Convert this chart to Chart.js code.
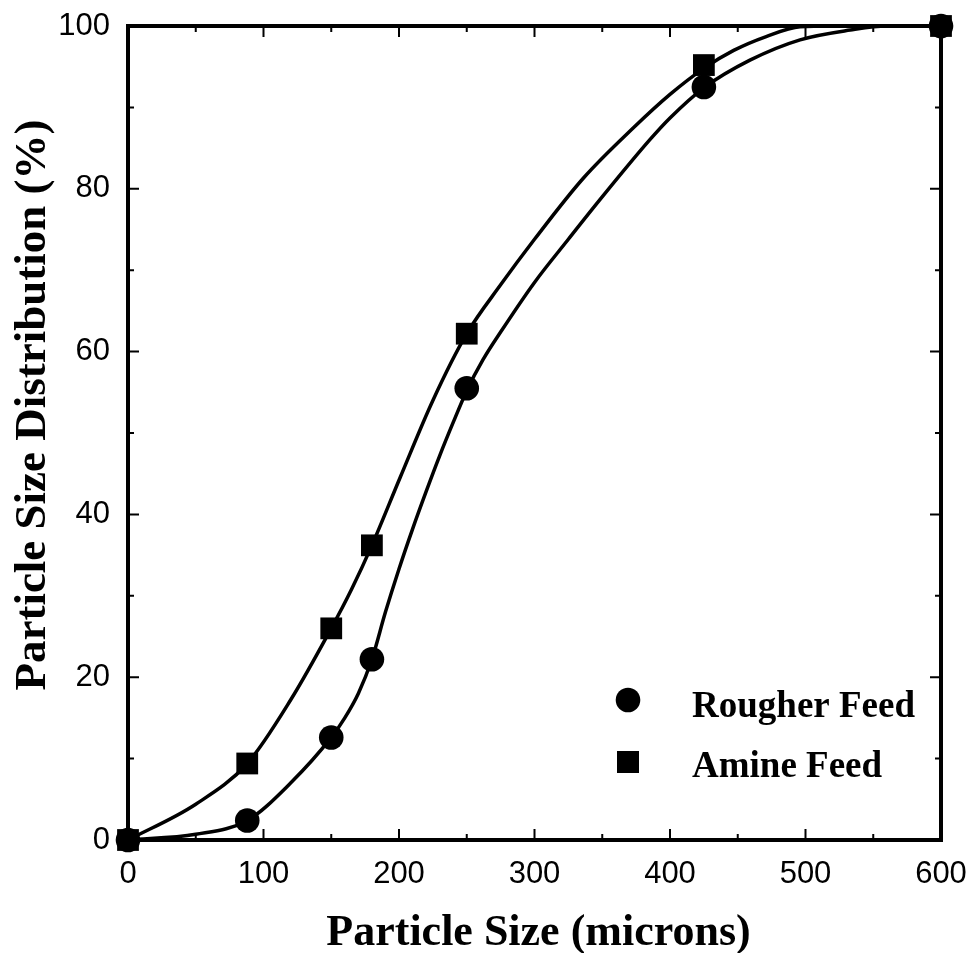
<!DOCTYPE html>
<html>
<head>
<meta charset="utf-8">
<script src="https://cdn.jsdelivr.net/npm/chart.js@4.4.1/dist/chart.umd.min.js"></script>
<style>
  body { margin: 0; background: #fff; }
  #wrap { width: 974px; height: 953px; }
</style>
</head>
<body>
<div id="wrap"><canvas id="myChart" width="974" height="953"></canvas></div>
<script>
// measured points
var sizes = [0, 88, 150, 180, 250, 425, 600];
var rougherFeed = [0, 2.4, 12.6, 22.2, 55.5, 92.5, 100];
var amineFeed = [0, 9.4, 26.0, 36.2, 62.2, 95.2, 100];

// fitted curves
var rougherFitX = [0, 50, 88, 120, 150, 160, 170, 180, 190, 200, 210, 220, 230, 240, 250, 262, 275, 300, 325, 348, 385, 400, 425, 459, 496, 533, 560, 600];
var rougherFitY = [0, 0.7, 2.4, 7.0, 12.6, 15.0, 18.0, 22.2, 28.0, 33.3, 38.2, 42.8, 47.2, 51.3, 55.2, 59.0, 62.4, 68.5, 73.8, 78.6, 86.0, 88.7, 92.4, 95.8, 98.3, 99.5, 100, 100];
var amineFitX = [0, 50, 88, 120, 150, 165, 180, 201, 225, 250, 275, 300, 336, 373, 400, 425, 447, 471, 496, 520, 600];
var amineFitY = [0, 4.4, 9.4, 17.2, 26.0, 30.8, 36.2, 44.6, 54.0, 62.2, 68.2, 73.8, 81.3, 87.5, 91.6, 94.8, 97.0, 98.7, 99.9, 100, 100];

var xTicks = [0, 100, 200, 300, 400, 500, 600];
var yTicks = [0, 20, 40, 60, 80, 100];

var seriesNames = ["Rougher Feed", "Amine Feed"];

function pts(xs, ys) {
    return xs.map(function(x, i){ return {x: x, y: ys[i]}; });
}

var serif = "'Liberation Serif', 'Times New Roman', serif";
var sans = "'Liberation Sans', Arial, sans-serif";

// frame, inside ticks, axis titles and the little legend box
var decorations = {
    id: 'decorations',
    afterDraw: function(chart) {
        var ctx = chart.ctx;
        var a = chart.chartArea;
        var xs = chart.scales.x, ys = chart.scales.y;
        ctx.save();
        ctx.strokeStyle = '#000';
        ctx.lineCap = 'butt';

        ctx.lineWidth = 2;
        ctx.beginPath();
        for (var v = 0; v <= 600; v += 50) {
            var px = xs.getPixelForValue(v);
            var len = (v % 100 === 0) ? 11 : 6;
            ctx.moveTo(px, a.bottom); ctx.lineTo(px, a.bottom - len);
            ctx.moveTo(px, a.top); ctx.lineTo(px, a.top + len);
        }
        for (var w = 0; w <= 100; w += 10) {
            var py = ys.getPixelForValue(w);
            var l2 = (w % 20 === 0) ? 11 : 6;
            ctx.moveTo(a.left, py); ctx.lineTo(a.left + l2, py);
            ctx.moveTo(a.right, py); ctx.lineTo(a.right - l2, py);
        }
        ctx.stroke();

        ctx.lineWidth = 4;
        ctx.strokeRect(a.left, a.top, a.right - a.left, a.bottom - a.top);

        // axis titles
        ctx.fillStyle = '#000';
        ctx.font = "bold 44px " + serif;
        ctx.textAlign = 'center';
        ctx.textBaseline = 'alphabetic';
        ctx.fillText("Particle Size (microns)", (a.left + a.right) / 2 + 4, a.bottom + 105);

        ctx.save();
        ctx.translate(45, a.top + 379);
        ctx.rotate(-Math.PI / 2);
        ctx.font = "bold 45px " + serif;
        ctx.fillText("Particle Size Distribution (%)", 0, 0);
        ctx.restore();

        // legend
        var lx = a.right - 313;
        var rows = [a.bottom - 140, a.bottom - 78];
        ctx.beginPath();
        ctx.arc(lx, rows[0], 12.3, 0, Math.PI * 2);
        ctx.fill();
        ctx.fillRect(lx - 11, rows[1] - 11, 22, 22);
        ctx.font = "bold 37px " + serif;
        ctx.textAlign = 'left';
        ctx.fillText(seriesNames[0], lx + 64, rows[0] + 17);
        ctx.fillText(seriesNames[1], lx + 64, rows[1] + 15);
        ctx.restore();
    }
};

var ctx = document.getElementById("myChart").getContext('2d');
var myChart = new Chart(ctx, {
    type: 'scatter',
    data: {
        datasets: [
            {
                label: 'rougher fit',
                data: pts(rougherFitX, rougherFitY),
                showLine: true,
                borderColor: '#000',
                borderWidth: 3.5,
                pointRadius: 0,
                cubicInterpolationMode: 'monotone',
                clip: false
            },
            {
                label: 'amine fit',
                data: pts(amineFitX, amineFitY),
                showLine: true,
                borderColor: '#000',
                borderWidth: 3.5,
                pointRadius: 0,
                cubicInterpolationMode: 'monotone',
                clip: false
            },
            {
                label: seriesNames[0],
                data: pts(sizes, rougherFeed),
                pointStyle: 'circle',
                pointRadius: 12.3,
                backgroundColor: '#000',
                borderColor: '#000',
                borderWidth: 0,
                clip: false
            },
            {
                label: seriesNames[1],
                data: pts(sizes, amineFeed),
                pointStyle: 'rect',
                pointRadius: 15.4,
                backgroundColor: '#000',
                borderColor: '#000',
                borderWidth: 0,
                clip: false
            }
        ]
    },
    options: {
        responsive: false,
        animation: false,
        layout: { autoPadding: false, padding: { top: 26, right: 33, left: 0, bottom: 0 } },
        plugins: {
            legend: { display: false },
            tooltip: { enabled: false }
        },
        scales: {
            x: {
                type: 'linear',
                min: 0, max: 600,
                afterFit: function(s){ s.height = 113; s.paddingLeft = 0; s.paddingRight = 0; },
                afterBuildTicks: function(s){ s.ticks = xTicks.map(function(v){ return {value: v}; }); },
                grid: { display: false, drawTicks: false },
                border: { display: false },
                ticks: { color: '#000', padding: 16, font: { family: sans, size: 31 } }
            },
            y: {
                type: 'linear',
                min: 0, max: 100,
                afterFit: function(s){ s.width = 128; s.paddingTop = 0; s.paddingBottom = 0; },
                afterBuildTicks: function(s){ s.ticks = yTicks.map(function(v){ return {value: v}; }); },
                grid: { display: false, drawTicks: false },
                border: { display: false },
                ticks: { color: '#000', padding: 18, font: { family: sans, size: 31 } }
            }
        }
    },
    plugins: [decorations]
});
</script>
</body>
</html>
